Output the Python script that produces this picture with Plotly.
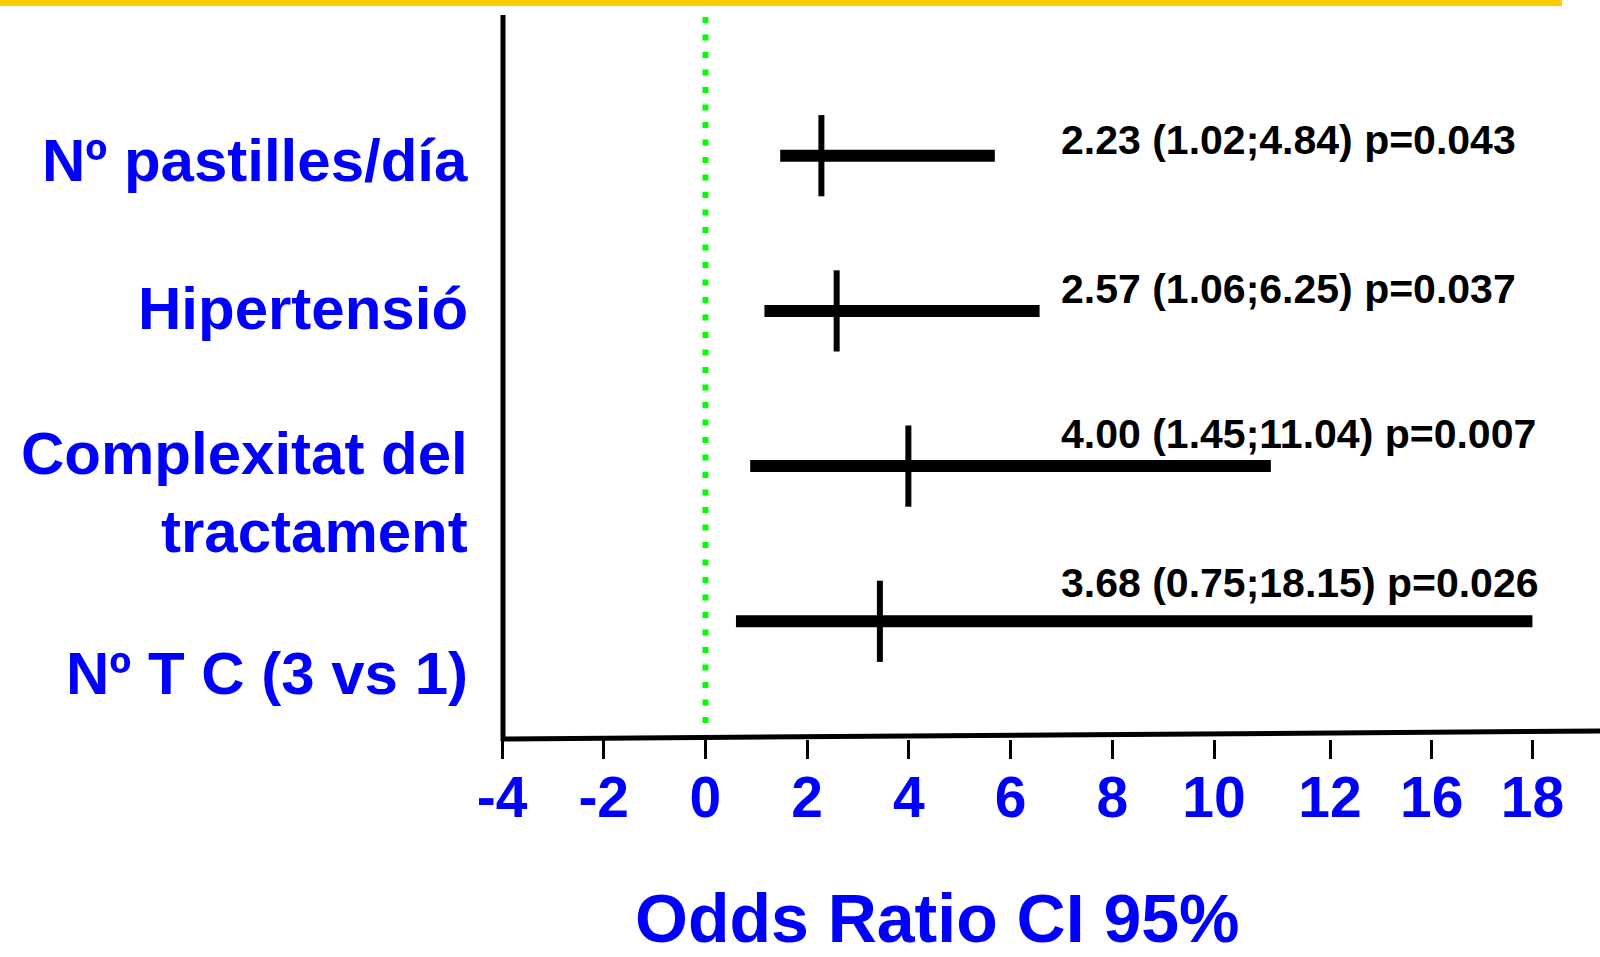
import numpy as np
import plotly.graph_objects as go

# ---------------- data ----------------
categories = ["Nº pastilles/día", "Hipertensió", "Complexitat del<br>tractament", "Nº T C (3 vs 1)"]
or_est = [2.28, 2.58, 3.99, 3.43]        # drawn point estimate
ci_low = [1.47, 1.16, 0.88, 0.60]        # drawn lower end of the bar
ci_high = [5.69, 6.57, 10.98, 18.0]      # drawn upper end of the bar
value_labels = [
    "2.23 (1.02;4.84) p=0.043",
    "2.57 (1.06;6.25) p=0.037",
    "4.00 (1.45;11.04) p=0.007",
    "3.68 (0.75;18.15) p=0.026",
]
tick_values = [-4, -2, 0, 2, 4, 6, 8, 10, 12, 16, 18]
tick_labels = ["-4", "-2", "0", "2", "4", "6", "8", "10", "12", "16", "18"]

# broken (piecewise) axis of the original chart: value -> axis coordinate
axis_break_vals = [-4, 10, 12, 16, 18]
axis_break_pos = [-4, 10, 12.28, 14.28, 16.26]


def to_axis(v):
    return float(np.interp(v, axis_break_vals, axis_break_pos))


# ---------------- layout geometry ----------------
W, H = 1600, 957
L, R, T, B = 502, 1600, 15, 739
PW, PH = R - L, B - T
X_RANGE = [-4, -4 + PW / 50.86]
ROW0, ROWSTEP = 155.7, 155.2
Y_RANGE = [(B - ROW0) / ROWSTEP, (T - ROW0) / ROWSTEP]


def px(xp):
    return (xp - L) / PW


def py(yp):
    return (B - yp) / PH


BLUE = "#0000FF"
FONT = "Liberation Sans, Arial, sans-serif"

fig = go.Figure()

rows = list(range(len(categories)))
for i in rows:
    fig.add_trace(go.Scatter(
        x=[to_axis(ci_low[i]), to_axis(ci_high[i])], y=[i, i],
        mode="lines", line=dict(color="black", width=12),
        hoverinfo="skip", showlegend=False))

fig.add_trace(go.Scatter(
    x=[to_axis(v) for v in or_est], y=rows, mode="markers",
    marker=dict(symbol="line-ns", size=58, color="black",
                line=dict(width=6, color="black")),
    showlegend=False))

shapes = [
    # yellow band at top
    dict(type="rect", xref="paper", yref="paper", x0=px(0), x1=px(1562),
         y0=py(6), y1=py(0), fillcolor="#FFCC00", line=dict(width=0), layer="above"),
    # y axis line
    dict(type="line", xref="paper", yref="paper", x0=px(503), x1=px(503),
         y0=py(15), y1=py(741), line=dict(color="black", width=5)),
    # x axis line (slightly slanted as in the original)
    dict(type="line", xref="paper", yref="paper", x0=px(501), x1=px(1600),
         y0=py(739), y1=py(731), line=dict(color="black", width=5)),
    # reference line at 0
    dict(type="line", xref="x", yref="paper", x0=to_axis(0), x1=to_axis(0),
         y0=py(17), y1=py(726), line=dict(color="#00FF00", width=6, dash="6px,11.5px")),
]

annotations = []
label_centers = [160.5, 308, 492.5, 673.5]
for lab, yc in zip(categories, label_centers):
    annotations.append(dict(
        text=lab, xref="paper", yref="paper", x=px(470), y=py(yc),
        xanchor="right", yanchor="middle", align="right", showarrow=False,
        font=dict(family=FONT, size=60, color=BLUE, weight="bold")))

text_centers = [140, 289, 434, 583]
for lab, yc in zip(value_labels, text_centers):
    annotations.append(dict(
        text=lab, xref="paper", yref="paper", x=px(1059), y=py(yc),
        xanchor="left", yanchor="middle", showarrow=False,
        font=dict(family=FONT, size=41, color="black", weight="bold")))

annotations.append(dict(
    text="Odds Ratio CI 95%", xref="paper", yref="paper", x=px(937), y=py(918),
    xanchor="center", yanchor="middle", showarrow=False,
    font=dict(family=FONT, size=68, color=BLUE, weight="bold")))

fig.update_layout(
    width=W, height=H,
    margin=dict(l=L, r=W - R, t=T, b=H - B, pad=0),
    paper_bgcolor="white", plot_bgcolor="white",
    showlegend=False,
    shapes=shapes, annotations=annotations,
    xaxis=dict(range=X_RANGE, showgrid=False, zeroline=False, showline=False,
               tickmode="array", tickvals=[to_axis(v) for v in tick_values],
               ticktext=tick_labels, ticks="outside", ticklen=19, tickwidth=3,
               tickcolor="black", ticklabelstandoff=-10,
               tickfont=dict(family=FONT, size=57, color=BLUE, weight="bold"),
               fixedrange=True),
    yaxis=dict(range=Y_RANGE, showgrid=False, zeroline=False, showline=False,
               showticklabels=False, ticks="", fixedrange=True),
)

fig.write_html(
    "out.html",
    config={"displayModeBar": False},
    post_script="document.body.style.margin='0';document.body.style.padding='0';",
)
